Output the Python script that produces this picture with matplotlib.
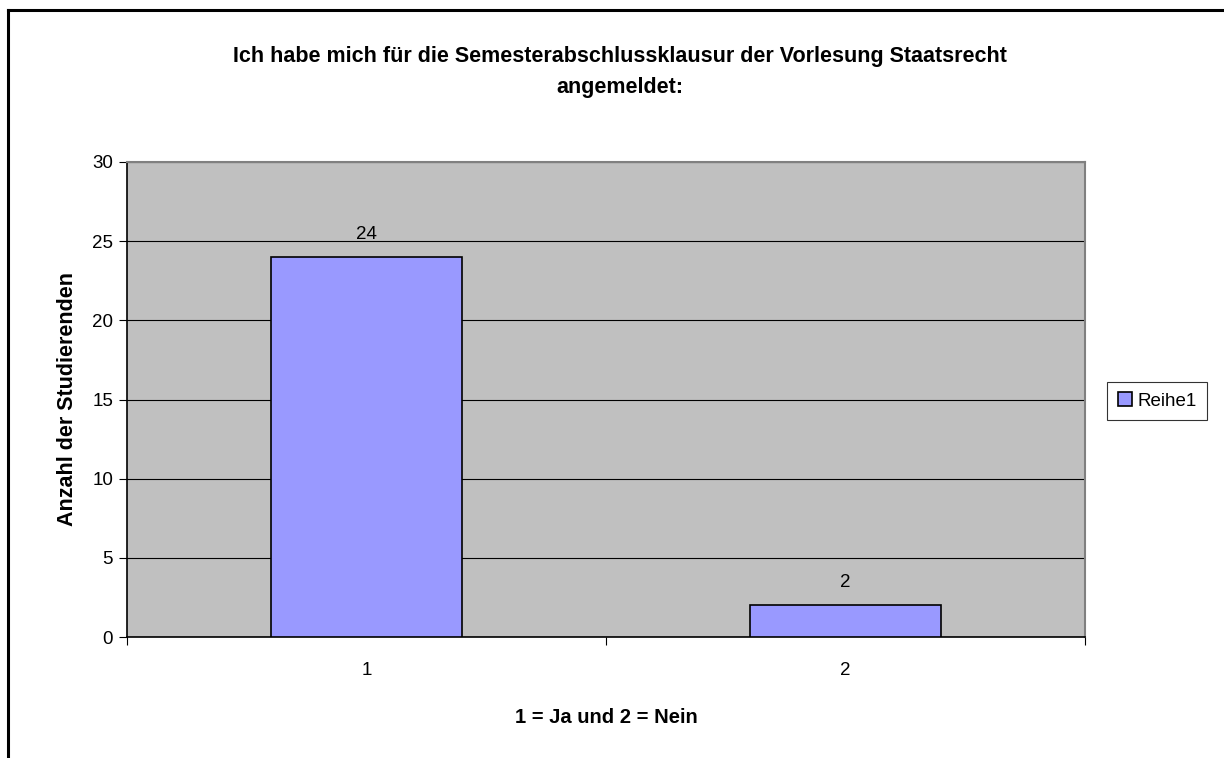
import matplotlib.pyplot as plt
from matplotlib.lines import Line2D

categories = [1, 2]
tick_labels = ['1', '2']
values = [24, 2]
series_name = 'Reihe1'

plt.rcParams['font.family'] = ['Liberation Sans', 'DejaVu Sans']

fig = plt.figure(figsize=(12.24, 7.58), dpi=100)
ax = fig.add_axes([127 / 1224, 1 - 637 / 758, (1085 - 127) / 1224, (637 - 162) / 758])
ax.set_facecolor('#C0C0C0')

# Bars
bars = ax.bar(categories, values, width=0.4, color='#9999FF', edgecolor='black',
              linewidth=1.2, label=series_name, zorder=3)
for b, v in zip(bars, values):
    ax.annotate(str(v), (b.get_x() + b.get_width() / 2, v), xytext=(0, 10),
                textcoords='offset points', ha='center', va='bottom', fontsize=13.5)

ax.set_xlim(0.5, 2.5)
ax.set_ylim(0, 30)
ax.set_yticks(range(0, 31, 5))
ax.yaxis.grid(True, color='black', linewidth=0.8, zorder=1)
ax.set_axisbelow(True)

# Excel-style category ticks between categories
ax.set_xticks(categories)
ax.set_xticklabels(tick_labels, fontsize=13.5)
ax.set_xticks([0.5, 1.5, 2.5], minor=True)
ax.tick_params(axis='x', which='major', length=0, pad=18)
ax.tick_params(axis='x', which='minor', length=6, width=0.8, direction='out')
ax.tick_params(axis='y', length=6, width=0.8, direction='out', labelsize=13.5, pad=4)

for side in ['top', 'right']:
    ax.spines[side].set_color('#808080')
    ax.spines[side].set_linewidth(1.5)
for side in ['left', 'bottom']:
    ax.spines[side].set_color('black')
    ax.spines[side].set_linewidth(1.2)

ax.set_ylabel('Anzahl der Studierenden', fontsize=15.5, fontweight='bold', labelpad=10)
ax.set_xlabel('1 = Ja und 2 = Nein', fontsize=14.5, fontweight='bold', labelpad=21)

fig.text(620 / 1224, 1 - 72 / 758,
         'Ich habe mich für die Semesterabschlussklausur der Vorlesung Staatsrecht\nangemeldet:',
         ha='center', va='center', fontsize=15.5, fontweight='bold', linespacing=1.65)

leg = fig.legend(loc='center', bbox_to_anchor=(1157 / 1224, 1 - 401 / 758),
                 fontsize=13.5, frameon=True, fancybox=False, edgecolor='black',
                 handlelength=0.75, handleheight=0.75, handletextpad=0.3,
                 borderpad=0.55, borderaxespad=0)
leg.get_frame().set_linewidth(0.8)

# Chart border (top and left visible)
fig.add_artist(Line2D([8 / 1224, 8 / 1224], [0, 1 - 10 / 758], color='black', linewidth=2.2))
fig.add_artist(Line2D([8 / 1224, 1], [1 - 10 / 758, 1 - 10 / 758], color='black', linewidth=2.2))

fig.savefig('out.png', dpi=100)
